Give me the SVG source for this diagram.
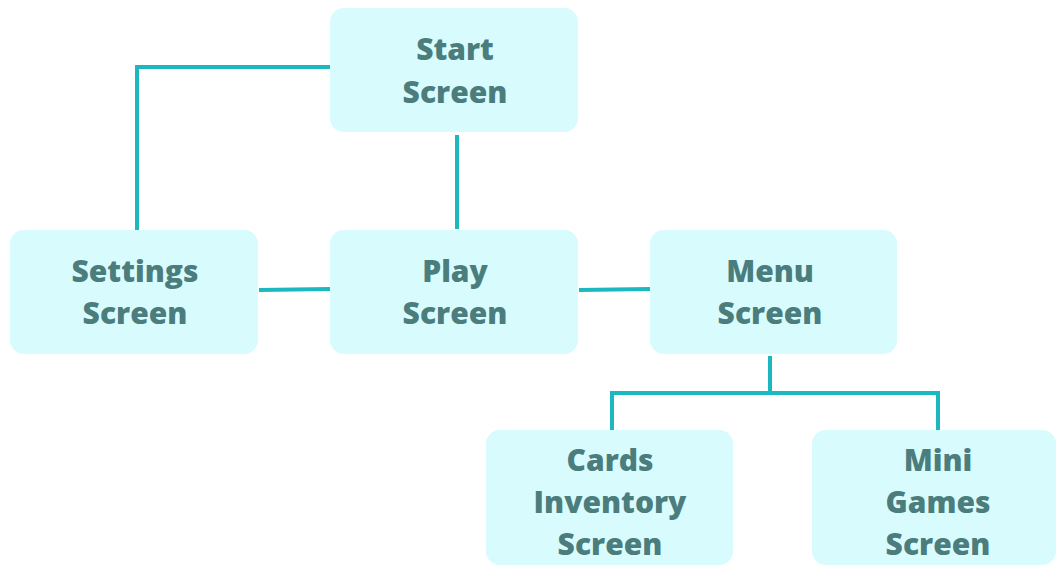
<svg xmlns="http://www.w3.org/2000/svg" width="1058" height="569" viewBox="0 0 1058 569">
<style>
.node rect{fill:#D8FBFD;}
.node text{font-family:"Open Sans","DejaVu Sans",sans-serif;font-weight:800;font-size:30px;fill:#4B7D7D;text-anchor:middle;}
.conn{fill:none;stroke:#1BB8C0;stroke-width:4;}
</style>
<rect width="1058" height="569" fill="#FFFFFF"/>
<g id="connectors">
<polyline class="conn" points="330,67 137,67 137,230"/>
<line class="conn" x1="457" y1="135" x2="457" y2="229"/>
<line class="conn" x1="259" y1="290" x2="330" y2="289"/>
<line class="conn" x1="579" y1="290" x2="650" y2="289"/>
<line class="conn" x1="770" y1="356" x2="770" y2="393"/>
<polyline class="conn" points="612,430 612,393 938,393 938,430"/>
</g>
<g id="start" class="node"><rect x="330" y="8" width="248" height="124" rx="14"/><text x="455" y="60">Start</text><text x="455" y="103">Screen</text></g>
<g id="settings" class="node"><rect x="10" y="230" width="248" height="124" rx="14"/><text x="135" y="282">Settings</text><text x="135" y="324">Screen</text></g>
<g id="play" class="node"><rect x="330" y="230" width="248" height="124" rx="14"/><text x="455" y="282">Play</text><text x="455" y="324">Screen</text></g>
<g id="menu" class="node"><rect x="650" y="230" width="247" height="124" rx="14"/><text x="770" y="282">Menu</text><text x="770" y="324">Screen</text></g>
<g id="cards" class="node"><rect x="486" y="430" width="247" height="135" rx="14"/><text x="610" y="471">Cards</text><text x="610" y="513">Inventory</text><text x="610" y="555">Screen</text></g>
<g id="mini" class="node"><rect x="812" y="430" width="244" height="135" rx="14"/><text x="938" y="471">Mini</text><text x="938" y="513">Games</text><text x="938" y="555">Screen</text></g>
</svg>
